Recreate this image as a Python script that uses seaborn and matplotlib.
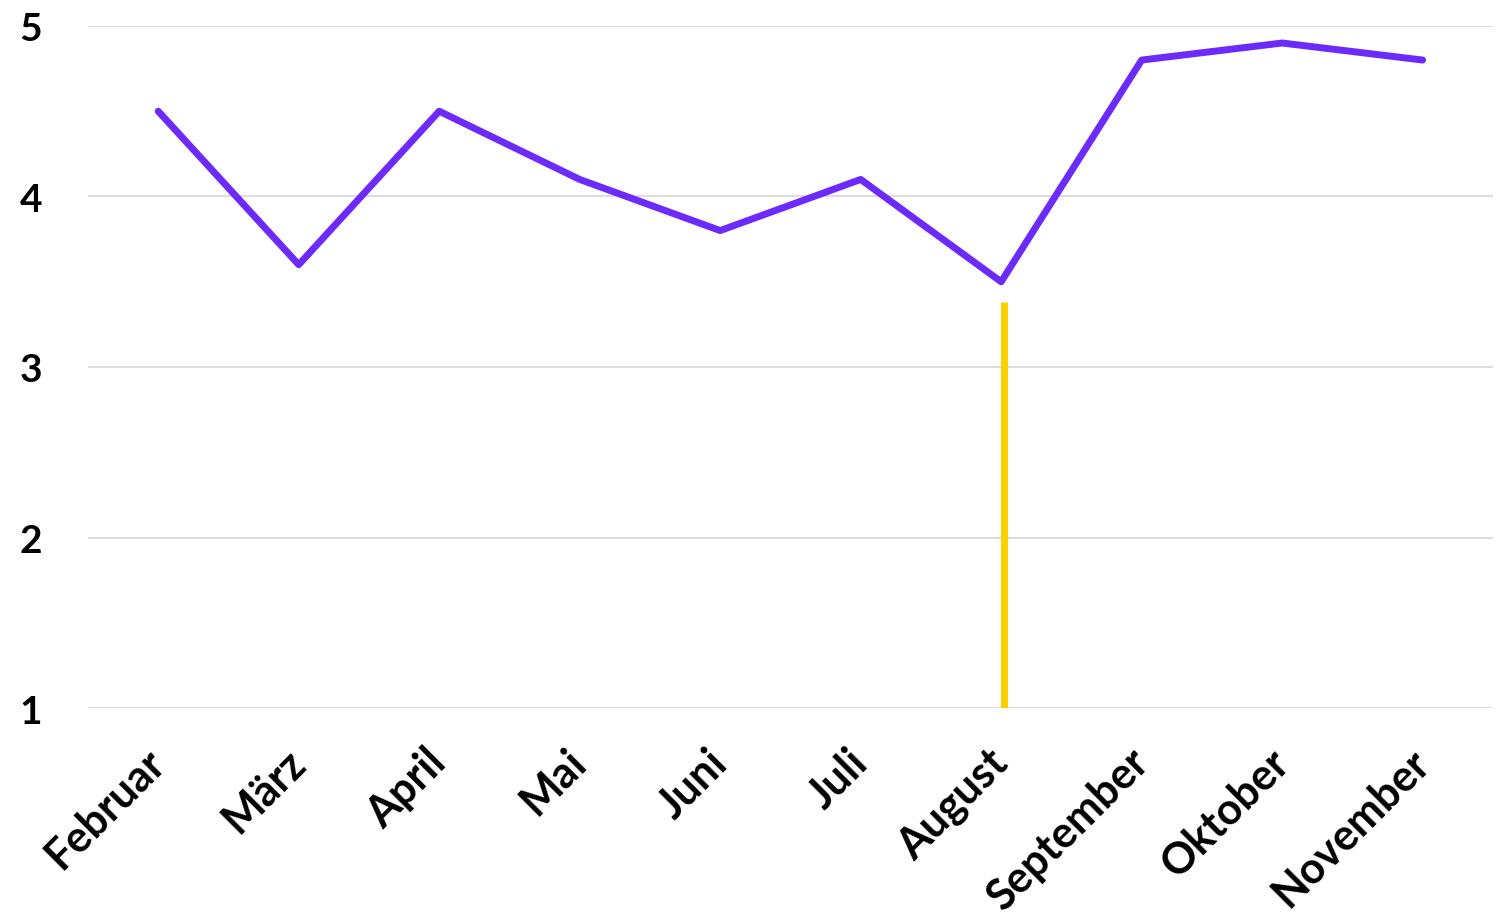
import matplotlib.pyplot as plt
import seaborn as sns
import pandas as pd

monate = ['Februar', 'März', 'April', 'Mai', 'Juni', 'Juli', 'August',
          'September', 'Oktober', 'November']
werte = [4.5, 3.6, 4.5, 4.1, 3.8, 4.1, 3.5, 4.8, 4.9, 4.8]
y_ticks = [1, 2, 3, 4, 5]
markierung_monat = 'August'
markierung_wert = 3.38

sns.set_theme(style='white')
plt.rcParams['font.family'] = ['Lato', 'DejaVu Sans']
plt.rcParams['font.weight'] = 'bold'
plt.rcParams['text.color'] = 'black'
plt.rcParams['xtick.color'] = 'black'
plt.rcParams['ytick.color'] = 'black'

df = pd.DataFrame({'Monat': monate, 'Wert': werte})
df['pos'] = range(len(monate))

fig = plt.figure(figsize=(15.01, 9.2), dpi=100)
ax = fig.add_axes([0.0586, 0.2293, 0.936, 0.7414])

for t in y_ticks:
    ax.axhline(t, color='#dddddd', lw=1.5, zorder=0)

sns.lineplot(data=df, x='pos', y='Wert', ax=ax, color='#6c2bfb', lw=5,
             solid_capstyle='round', solid_joinstyle='round', zorder=3)

mx = monate.index(markierung_monat)
ax.vlines(mx + 0.02, y_ticks[0] - 0.01, markierung_wert, color='#fad000', lw=5, zorder=2)

ax.set_xlim(-0.5, len(monate) - 0.5)
ax.set_ylim(y_ticks[0], y_ticks[-1])
ax.set_yticks(y_ticks)
ax.set_yticklabels([str(t) for t in y_ticks], fontsize=28, fontweight='bold')
ax.set_xticks(df['pos'])
ax.set_xticklabels(monate, rotation=45, ha='right', va='center',
                   rotation_mode='anchor', fontsize=31, fontweight='bold')
ax.tick_params(axis='y', pad=33, length=0)
ax.tick_params(axis='x', pad=34, length=0)
ax.set_xlabel('')
ax.set_ylabel('')
sns.despine(ax=ax, left=True, bottom=True)

fig.savefig('out.png', dpi=100, facecolor='white')
